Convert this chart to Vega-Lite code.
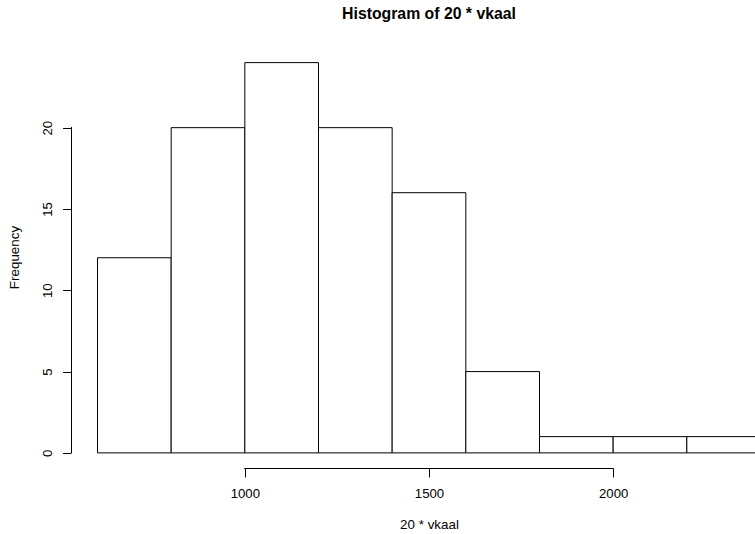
{
  "$schema": "https://vega.github.io/schema/vega-lite/v6.json",
  "autosize": {"type": "none"},
  "padding": {"left": 71, "top": 47, "right": 0, "bottom": 66},
  "width": 716,
  "height": 421.5,
  "background": "white",
  "config": {
    "view": {"stroke": null},
    "font": "Liberation Sans"
  },
  "title": {
    "text": "Histogram of 20 * vkaal",
    "font": "Liberation Sans",
    "fontSize": 15.8,
    "fontWeight": "bold",
    "color": "black",
    "anchor": "middle",
    "frame": "group",
    "baseline": "alphabetic",
    "offset": 12
  },
  "data": {
    "values": [
      {"start": 600, "end": 800, "count": 12},
      {"start": 800, "end": 1000, "count": 20},
      {"start": 1000, "end": 1200, "count": 24},
      {"start": 1200, "end": 1400, "count": 20},
      {"start": 1400, "end": 1600, "count": 16},
      {"start": 1600, "end": 1800, "count": 5},
      {"start": 1800, "end": 2000, "count": 1},
      {"start": 2000, "end": 2200, "count": 1},
      {"start": 2200, "end": 2400, "count": 1}
    ]
  },
  "layer": [
    {
      "mark": {"type": "rect", "fill": "white", "stroke": "black", "strokeWidth": 1},
      "encoding": {
        "x": {
          "field": "start",
          "type": "quantitative",
          "scale": {"domain": [528, 2472], "nice": false, "zero": false},
          "axis": {
            "values": [1000, 1500, 2000],
            "domain": false,
            "grid": false,
            "tickColor": "black",
            "tickSize": 8.4,
            "tickWidth": 1,
            "labelFont": "Liberation Sans",
            "labelFontSize": 13.2,
            "labelColor": "black",
            "labelPadding": 10.5,
            "labelFlush": false,
            "format": "d",
            "title": "20 * vkaal",
            "titleFont": "Liberation Sans",
            "titleFontSize": 13.4,
            "titleFontWeight": "normal",
            "titleColor": "black",
            "titleX": 358,
            "titleY": 55.5,
            "titleAlign": "center",
            "titleBaseline": "middle"
          }
        },
        "x2": {"field": "end"},
        "y": {
          "field": "count",
          "type": "quantitative",
          "scale": {"domain": [-0.96, 24.96], "nice": false, "zero": false},
          "axis": {
            "values": [0, 5, 10, 15, 20],
            "domain": false,
            "grid": false,
            "tickColor": "black",
            "tickSize": 8.4,
            "tickWidth": 1,
            "labelFont": "Liberation Sans",
            "labelFontSize": 13.2,
            "labelColor": "black",
            "labelAngle": -90,
            "labelAlign": "center",
            "labelBaseline": "alphabetic",
            "labelPadding": 11,
            "labelFlush": false,
            "title": "Frequency",
            "titleFont": "Liberation Sans",
            "titleFontSize": 13.4,
            "titleFontWeight": "normal",
            "titleColor": "black",
            "titleAngle": -90,
            "titleX": -57,
            "titleY": 210,
            "titleAlign": "center",
            "titleBaseline": "middle"
          }
        },
        "y2": {"datum": 0}
      }
    },
    {
      "mark": {"type": "rule", "color": "black", "strokeWidth": 1},
      "encoding": {
        "x": {"datum": 1000},
        "x2": {"datum": 2000},
        "y": {"datum": -0.96}
      }
    },
    {
      "mark": {"type": "rule", "color": "black", "strokeWidth": 1, "xOffset": 0.5},
      "encoding": {
        "x": {"datum": 528},
        "y": {"datum": 0},
        "y2": {"datum": 20}
      }
    }
  ]
}
